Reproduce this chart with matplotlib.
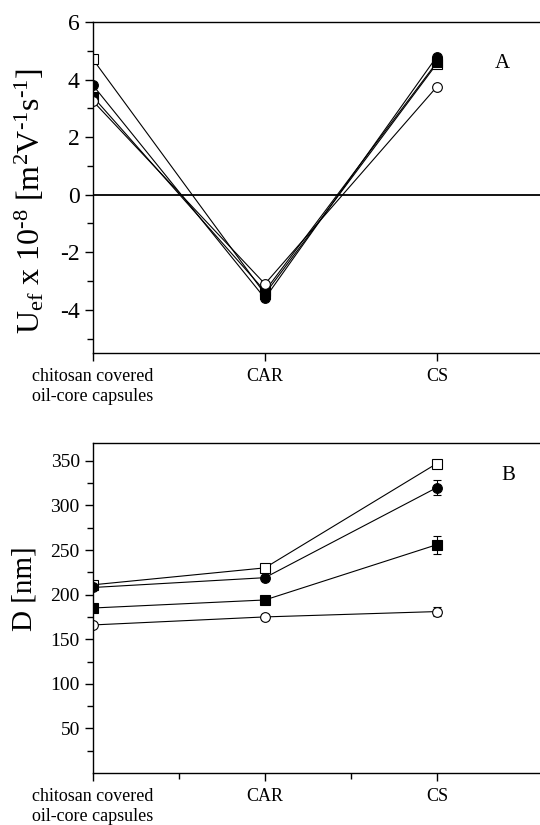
import matplotlib
matplotlib.use("Agg")
import matplotlib.pyplot as plt
import numpy as np

matplotlib.rcParams.update(
    {
        "font.family": ["Liberation Serif", "DejaVu Serif"],
        "mathtext.fontset": "custom",
        "mathtext.rm": "Liberation Serif",
        "mathtext.it": "Liberation Serif:italic",
        "axes.unicode_minus": False,
        "xtick.direction": "out",
        "ytick.direction": "out",
        "axes.linewidth": 1.0,
    }
)

categories = ["chitosan covered\noil-core capsules", "CAR", "CS"]

# panel A: electrophoretic mobility
u_open_sq = [4.7, -3.45, 4.55]
u_fill_ci = [3.8, -3.6, 4.8]
u_fill_sq = [3.4, -3.35, 4.6]
u_open_ci = [3.25, -3.1, 3.75]

# panel B: size
d_open_sq = [211, 230, 347]
d_fill_ci = [208, 219, 320]
d_fill_sq = [185, 194, 256]
d_open_ci = [166, 175, 181]
d_err_open_sq = [2, 3, 4]
d_err_fill_ci = [2, 3, 8]
d_err_fill_sq = [2, 3, 10]
d_err_open_ci = [2, 3, 5]

x = np.arange(len(categories))

styles = [
    dict(marker="s", mfc="white"),
    dict(marker="o", mfc="black"),
    dict(marker="s", mfc="black"),
    dict(marker="o", mfc="white"),
]


def make_series(ax, y, st, yerr=None):
    ax.errorbar(
        x, y, yerr=yerr, color="black", lw=0.8, ms=7, mec="black", mew=0.8,
        capsize=3, elinewidth=0.8, **st
    )


def style_axes(ax):
    ax.spines["right"].set_visible(False)
    ax.set_xlim(0, 2.6)
    ax.set_xticks(x)
    ax.set_xticklabels(categories, fontsize=13)
    ax.tick_params(axis="x", pad=5)
    ax.tick_params(axis="both", which="major", length=6, width=1)
    ax.tick_params(axis="both", which="minor", length=4, width=1)
    ax.tick_params(axis="y", right=False)


fig = plt.figure(figsize=(5.4, 8.25), dpi=100)

axA = fig.add_axes([93 / 540, 1 - 353 / 825, 447 / 540, 331 / 825])
for y, st in zip([u_open_sq, u_fill_ci, u_fill_sq, u_open_ci], styles):
    make_series(axA, y, st)
axA.axhline(0, color="black", lw=1.3)
style_axes(axA)
axA.set_ylim(-5.5, 6)
axA.set_yticks([-4, -2, 0, 2, 4, 6])
axA.set_yticks([-5, -3, -1, 1, 3, 5], minor=True)
axA.tick_params(axis="y", labelsize=17)
axA.set_ylabel(
    r"U$_{\rm ef}$ x 10$^{\text{-8}}$ [m$^{\rm 2}$V$^{\text{-1}}$s$^{\text{-1}}$]",
    fontsize=23,
)
axA.yaxis.set_label_coords(-0.105, 0.46)
axA.text(0.915, 0.875, "A", transform=axA.transAxes, fontsize=15, ha="center", va="center")

axB = fig.add_axes([93 / 540, 1 - 773 / 825, 447 / 540, 330 / 825])
for y, e, st in zip(
    [d_open_sq, d_fill_ci, d_fill_sq, d_open_ci],
    [d_err_open_sq, d_err_fill_ci, d_err_fill_sq, d_err_open_ci],
    styles,
):
    make_series(axB, y, st, yerr=e)
style_axes(axB)
axB.set_ylim(0, 370)
axB.set_yticks([50, 100, 150, 200, 250, 300, 350])
axB.set_yticks([25, 75, 125, 175, 225, 275, 325], minor=True)
axB.set_xticks([0.5, 1.5], minor=True)
axB.tick_params(axis="y", labelsize=14)
axB.set_ylabel("D [nm]", fontsize=21)
axB.yaxis.set_label_coords(-0.125, 0.56)
axB.text(0.928, 0.9, "B", transform=axB.transAxes, fontsize=15, ha="center", va="center")

fig.savefig("out.png", dpi=100)
